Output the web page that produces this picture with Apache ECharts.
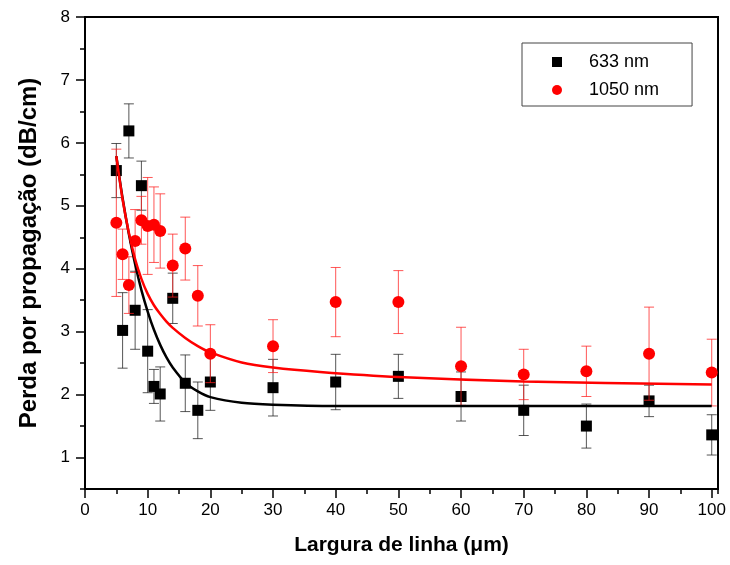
<!DOCTYPE html>
<html>
<head>
<meta charset="utf-8">
<script src="https://cdn.jsdelivr.net/npm/echarts@6/dist/echarts.min.js"></script>
<style>
  html, body { margin: 0; padding: 0; background: #fff; }
  #chart { width: 730px; height: 565px; }
</style>
</head>
<body>
<div id="chart"></div>
<script>
// larguras de linha (um)
const widths = [5, 6, 7, 8, 9, 10, 11, 12, 14, 16, 18, 20, 30, 40, 50, 60, 70, 80, 90, 100];

// 633 nm
const loss633 = [5.56, 3.02, 6.19, 3.34, 5.32, 2.69, 2.13, 2.01, 3.53, 2.18, 1.75, 2.20, 2.11, 2.20, 2.29, 1.97, 1.75, 1.50, 1.90, 1.36];
const err633 = [0.43, 0.60, 0.43, 0.62, 0.39, 0.66, 0.27, 0.43, 0.40, 0.45, 0.45, 0.45, 0.45, 0.44, 0.35, 0.39, 0.40, 0.35, 0.25, 0.32];

// 1050 nm
const loss1050 = [4.73, 4.23, 3.74, 4.44, 4.77, 4.68, 4.70, 4.60, 4.05, 4.32, 3.57, 2.65, 2.77, 3.47, 3.47, 2.45, 2.32, 2.37, 2.65, 2.35];
const err1050 = [1.17, 0.40, 0.45, 0.50, 0.38, 0.77, 0.60, 0.59, 0.50, 0.50, 0.48, 0.46, 0.42, 0.55, 0.50, 0.62, 0.40, 0.40, 0.74, 0.53];

// curvas de ajuste
const fitX633 = [5, 6, 7, 8, 9, 10, 11, 12, 13, 14, 16, 18, 20, 25, 30, 40, 60, 100];
const fit633 = [5.79, 5.12, 4.55, 4.07, 3.66, 3.32, 3.03, 2.79, 2.59, 2.43, 2.19, 2.05, 1.96, 1.87, 1.84, 1.82, 1.82, 1.82];
const fitX1050 = [5, 6, 7, 8, 9, 10, 11, 12, 13, 14, 16, 18, 20, 25, 30, 37.5, 50, 70, 100];
const fit1050 = [5.79, 5.10, 4.57, 4.15, 3.84, 3.60, 3.42, 3.28, 3.16, 3.06, 2.90, 2.77, 2.67, 2.51, 2.43, 2.36, 2.28, 2.21, 2.16];

const font = 'Liberation Sans, Arial, sans-serif';

function pairs(xs, ys) {
  return xs.map((x, i) => [x, ys[i]]);
}
function triples(xs, ys, es) {
  return xs.map((x, i) => [x, ys[i], es[i]]);
}

function errorBars(color) {
  return function (params, api) {
    const x = api.value(0);
    const y = api.value(1);
    const e = api.value(2);
    const top = api.coord([x, y + e]);
    const bot = api.coord([x, y - e]);
    const w = 5;
    const style = { stroke: color, lineWidth: 1 };
    return {
      type: 'group',
      children: [
        { type: 'line', shape: { x1: top[0], y1: top[1], x2: bot[0], y2: bot[1] }, style },
        { type: 'line', shape: { x1: top[0] - w, y1: top[1], x2: top[0] + w, y2: top[1] }, style },
        { type: 'line', shape: { x1: bot[0] - w, y1: bot[1], x2: bot[0] + w, y2: bot[1] }, style }
      ]
    };
  };
}

const chart = echarts.init(document.getElementById('chart'));

const axisLine = { onZero: false, lineStyle: { color: '#000', width: 2 } };

chart.setOption({
  animation: false,
  textStyle: { fontFamily: font },
  grid: {
    left: 85, right: 12, top: 17, bottom: 76,
    show: true, borderColor: '#000', borderWidth: 2
  },
  legend: {
    orient: 'vertical',
    left: 522,
    top: 43,
    padding: [9, 33, 6, 30],
    itemGap: 8,
    itemWidth: 10,
    itemHeight: 10,
    borderColor: '#444',
    borderWidth: 1,
    textStyle: { fontFamily: font, fontSize: 18, color: '#000', lineHeight: 20, padding: [0, 0, 0, 22] },
    data: [
      { name: '633 nm', icon: 'rect', itemStyle: { color: '#000' } },
      { name: '1050 nm', icon: 'circle', itemStyle: { color: '#ff0000' } }
    ]
  },
  xAxis: [
    {
      type: 'value', min: 0, max: 101, interval: 5, position: 'bottom',
      axisLine: axisLine,
      axisTick: { length: 5, lineStyle: { color: '#000', width: 1.5 } },
      axisLabel: { show: false },
      splitLine: { show: false }
    },
    {
      type: 'value', min: 0, max: 101, interval: 10, position: 'bottom', offset: 0,
      axisLine: axisLine,
      axisTick: { length: 9, lineStyle: { color: '#000', width: 1.5 } },
      axisLabel: { fontSize: 17, color: '#000', margin: 13, showMaxLabel: false, fontFamily: font },
      splitLine: { show: false },
      name: 'Largura de linha (\u03bcm)',
      nameLocation: 'middle',
      nameGap: 46,
      nameTextStyle: { fontSize: 21, fontWeight: 'bold', color: '#000', fontFamily: font }
    }
  ],
  yAxis: [
    {
      type: 'value', min: 0.5, max: 8, interval: 0.5, position: 'left',
      axisLine: axisLine,
      axisTick: { length: 5, lineStyle: { color: '#000', width: 1.5 } },
      axisLabel: { show: false },
      splitLine: { show: false }
    },
    {
      type: 'value', min: 0.5, max: 8, splitNumber: 7, position: 'left', offset: 0,
      axisLine: axisLine,
      axisTick: { length: 9, lineStyle: { color: '#000', width: 1.5 } },
      axisLabel: { fontSize: 17, color: '#000', margin: 15, showMinLabel: false, fontFamily: font },
      splitLine: { show: false },
      name: 'Perda por propaga\u00e7\u00e3o (dB/cm)',
      nameLocation: 'middle',
      nameGap: 44,
      nameTextStyle: { fontSize: 24, fontWeight: 'bold', color: '#000', fontFamily: font }
    }
  ],
  series: [
    {
      name: '633 nm',
      type: 'custom',
      xAxisIndex: 1, yAxisIndex: 1,
      renderItem: errorBars('rgba(30,30,30,0.75)'),
      encode: { x: 0, y: 1 },
      data: triples(widths, loss633, err633),
      z: 2
    },
    {
      name: '633 nm',
      type: 'scatter',
      xAxisIndex: 1, yAxisIndex: 1,
      symbol: 'rect',
      symbolSize: 11,
      itemStyle: { color: '#000', opacity: 1 },
      data: pairs(widths, loss633),
      z: 3
    },
    {
      name: '1050 nm',
      type: 'custom',
      xAxisIndex: 1, yAxisIndex: 1,
      renderItem: errorBars('rgba(255,30,30,0.75)'),
      encode: { x: 0, y: 1 },
      data: triples(widths, loss1050, err1050),
      z: 4
    },
    {
      name: '1050 nm',
      type: 'scatter',
      xAxisIndex: 1, yAxisIndex: 1,
      symbol: 'circle',
      symbolSize: 12,
      itemStyle: { color: '#ff0000', opacity: 1 },
      data: pairs(widths, loss1050),
      z: 5
    },
    {
      name: 'ajuste 633',
      type: 'line',
      xAxisIndex: 1, yAxisIndex: 1,
      showSymbol: false,
      smooth: 0.3,
      lineStyle: { color: '#000', width: 2.5 },
      data: pairs(fitX633, fit633),
      z: 6
    },
    {
      name: 'ajuste 1050',
      type: 'line',
      xAxisIndex: 1, yAxisIndex: 1,
      showSymbol: false,
      smooth: 0.3,
      lineStyle: { color: '#ff0000', width: 2.5 },
      data: pairs(fitX1050, fit1050),
      z: 7
    }
  ]
});
</script>
</body>
</html>
